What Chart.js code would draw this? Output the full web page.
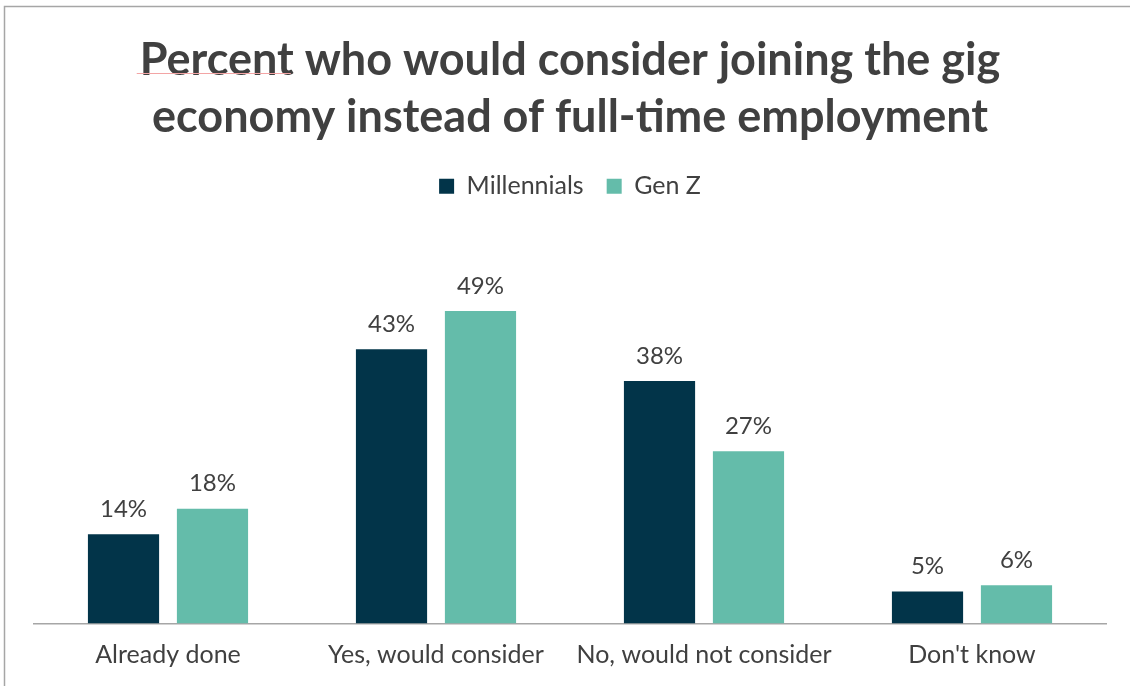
<!DOCTYPE html>
<html>
<head>
<meta charset="utf-8">
<script src="https://cdn.jsdelivr.net/npm/chart.js@4"></script>
<style>
  html, body { margin: 0; padding: 0; background: #ffffff; }
  #wrap { width: 1130px; height: 686px; position: relative; }
</style>
</head>
<body>
<div id="wrap"><canvas id="myChart" width="1130" height="686"></canvas></div>
<script>
const categories = ['Already done', 'Yes, would consider', 'No, would not consider', "Don't know"];
const millennials = [14, 43, 38, 5];
const genZ = [18, 49, 27, 6];
const seriesNames = ['Millennials', 'Gen Z'];
const titleLines = ['Percent who would consider joining the gig', 'economy instead of full-time employment'];

const textColor = '#404040';
const fontFamily = 'Lato, "Open Sans", sans-serif';
const titleSize = 45;

// value labels above each bar
const barLabels = {
    id: 'barLabels',
    afterDatasetsDraw(chart) {
        const ctx = chart.ctx;
        ctx.save();
        ctx.font = '24px ' + fontFamily;
        ctx.fillStyle = textColor;
        ctx.textAlign = 'center';
        ctx.textBaseline = 'bottom';
        chart.data.datasets.forEach((ds, i) => {
            chart.getDatasetMeta(i).data.forEach((bar, j) => {
                ctx.fillText(ds.data[j] + '%', bar.x, bar.y - 13);
            });
        });
        ctx.restore();
    }
};

// outer frame + the little spell-check underline under the first title word
const frame = {
    id: 'frame',
    beforeDraw(chart) {
        const ctx = chart.ctx;
        ctx.save();
        ctx.fillStyle = '#ffffff';
        ctx.fillRect(0, 0, chart.width, chart.height);
        ctx.strokeStyle = '#a6a6a6';
        ctx.lineWidth = 1.5;
        ctx.beginPath();
        ctx.moveTo(4.5, chart.height);
        ctx.lineTo(4.5, 6.5);
        ctx.lineTo(chart.width, 6.5);
        ctx.stroke();
        ctx.restore();
    },
    afterDraw(chart) {
        const ctx = chart.ctx;
        ctx.save();
        ctx.font = 'bold ' + titleSize + 'px ' + fontFamily;
        const full = ctx.measureText(titleLines[0]).width;
        const word = ctx.measureText(titleLines[0].split(' ')[0]).width;
        const x0 = chart.width / 2 - full / 2 + 2;
        ctx.strokeStyle = '#f3a5a5';
        ctx.lineWidth = 1;
        ctx.beginPath();
        ctx.moveTo(x0, 73.5);
        ctx.lineTo(x0 + word, 73.5);
        ctx.stroke();
        ctx.restore();
    }
};

const ctx = document.getElementById('myChart').getContext('2d');
new Chart(ctx, {
    type: 'bar',
    data: {
        labels: categories,
        datasets: [{
            label: seriesNames[0],
            data: millennials,
            backgroundColor: '#023449',
            borderWidth: 0
        }, {
            label: seriesNames[1],
            data: genZ,
            backgroundColor: '#64bcaa',
            borderWidth: 0
        }]
    },
    options: {
        responsive: false,
        animation: false,
        categoryPercentage: 0.664,
        barPercentage: 0.8,
        layout: {
            padding: { left: 34, right: 24, top: 20, bottom: 0 }
        },
        scales: {
            y: {
                display: false,
                min: 0,
                max: 65
            },
            x: {
                grid: { display: false, drawTicks: false },
                border: { display: true, color: '#a6a6a6', width: 1.5 },
                ticks: {
                    color: textColor,
                    font: { family: fontFamily, size: 25, lineHeight: 0.9 },
                    padding: 20
                }
            }
        },
        plugins: {
            title: {
                display: true,
                text: titleLines,
                color: textColor,
                font: { family: fontFamily, size: titleSize, weight: 'bold', lineHeight: 1.27 },
                padding: { top: 11.5, bottom: 5 }
            },
            legend: {
                display: true,
                labels: {
                    color: textColor,
                    font: { family: fontFamily, size: 25 },
                    boxWidth: 15,
                    boxHeight: 15,
                    padding: 23
                }
            },
            tooltip: { enabled: false }
        }
    },
    plugins: [frame, barLabels]
});
</script>
</body>
</html>
